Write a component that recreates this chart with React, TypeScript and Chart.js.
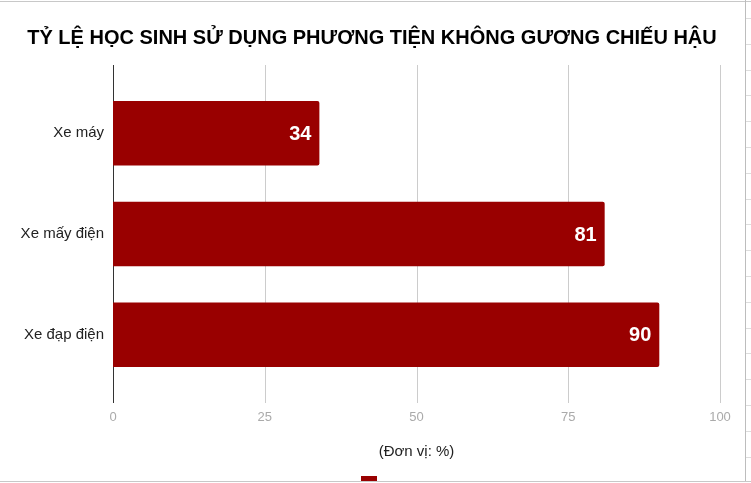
import { useEffect, useRef } from "react";
import { Chart, registerables, type Plugin } from "chart.js";

Chart.register(...registerables);

const TITLE = "TỶ LỆ HỌC SINH SỬ DỤNG PHƯƠNG TIỆN KHÔNG GƯƠNG CHIẾU HẬU";
const AXIS_TITLE = "(Đơn vị: %)";
const categories = ["Xe máy", "Xe mấy điện", "Xe đạp điện"];
const values = [34, 81, 90];
const xTicks = [0, 25, 50, 75, 100];

const BAR = "#990000";
const FONT = "'Liberation Sans', Arial, sans-serif";

// vertical gridlines drawn a bit past the bars, like the sheets chart does
const gridPlugin: Plugin<"bar"> = {
  id: "extGrid",
  beforeDatasetsDraw(chart) {
    const { ctx, chartArea, scales } = chart;
    const ext = 18;
    ctx.save();
    for (const v of xTicks) {
      const x = Math.round(scales.x.getPixelForValue(v)) + 0.5;
      ctx.strokeStyle = v === 0 ? "#333333" : "#cccccc";
      ctx.lineWidth = 1;
      ctx.beginPath();
      ctx.moveTo(x, chartArea.top - ext);
      ctx.lineTo(x, chartArea.bottom + ext);
      ctx.stroke();
    }
    ctx.restore();
  },
};

const labelPlugin: Plugin<"bar"> = {
  id: "barLabels",
  afterDatasetsDraw(chart) {
    const { ctx } = chart;
    const meta = chart.getDatasetMeta(0);
    ctx.save();
    ctx.fillStyle = "#ffffff";
    ctx.font = `bold 20px ${FONT}`;
    ctx.textAlign = "right";
    ctx.textBaseline = "middle";
    meta.data.forEach((el, i) => {
      const { x, y } = el.getProps(["x", "y"], true) as { x: number; y: number };
      ctx.fillText(String(values[i]), x - 8, y + 1);
    });
    ctx.restore();
  },
};

function BarChart() {
  const ref = useRef<HTMLCanvasElement>(null);

  useEffect(() => {
    if (!ref.current) return;
    const chart = new Chart(ref.current, {
      type: "bar",
      data: {
        labels: categories,
        datasets: [
          {
            label: "",
            data: values,
            backgroundColor: BAR,
            borderRadius: 2,
            borderSkipped: "start",
            categoryPercentage: 0.64,
            barPercentage: 1,
          },
        ],
      },
      options: {
        indexAxis: "y",
        responsive: true,
        maintainAspectRatio: false,
        animation: false,
        layout: { padding: { left: 0, right: 1, top: 0, bottom: 0 } },
        plugins: {
          title: {
            display: true,
            text: TITLE,
            color: "#000000",
            font: { family: FONT, size: 20, weight: "bold" },
            padding: { top: 26, bottom: 33 },
          },
          legend: {
            display: true,
            position: "bottom",
            labels: { boxWidth: 16, boxHeight: 16, padding: 10, font: { size: 12 } },
          },
          tooltip: { enabled: false },
        },
        scales: {
          x: {
            min: 0,
            max: 100,
            afterBuildTicks: (s) => {
              s.ticks = xTicks.map((v) => ({ value: v }));
            },
            afterFit: (s) => {
              s.height = 81;
            },
            // tick marks hidden; their length only pushes the labels down
            grid: { display: false, drawTicks: true, tickLength: 25 },
            border: { display: false },
            ticks: {
              color: "#aaaaaa",
              padding: 0,
              font: { family: FONT, size: 13 },
            },
            title: {
              display: true,
              text: AXIS_TITLE,
              color: "#222222",
              font: { family: FONT, size: 15 },
              padding: { top: 0, bottom: 5 },
            },
          },
          y: {
            afterFit: (s) => {
              s.width = 113;
            },
            grid: { display: false, drawTicks: false },
            border: { display: false },
            ticks: {
              color: "#222222",
              padding: 9,
              font: { family: FONT, size: 15 },
            },
          },
          // empty right gutter so title and legend centre on the whole frame
          gutter: {
            type: "linear",
            position: "right",
            afterFit: (s) => {
              s.width = 24;
            },
            grid: { display: false, drawTicks: false },
            border: { display: false },
            ticks: { display: false },
          },
        },
      },
      plugins: [gridPlugin, labelPlugin],
    });
    return () => chart.destroy();
  }, []);

  return (
    <div style={{ position: "absolute", left: 0, top: 0, width: 745, height: 502 }}>
      <canvas ref={ref} />
    </div>
  );
}

export default function App() {
  return (
    <div
      style={{
        position: "fixed",
        left: 0,
        top: 0,
        width: 751,
        height: 483,
        overflow: "hidden",
        background: "#ffffff",
      }}
    >
      <BarChart />
      {/* sheet frame around the embedded chart */}
      <div style={{ position: "absolute", left: 0, top: 1, width: 751, height: 1, background: "#c8c8c8" }} />
      <div style={{ position: "absolute", left: 745, top: 0, width: 1, height: 483, background: "#bdbdbd" }} />
      <div
        style={{
          position: "absolute",
          left: 746,
          top: 0,
          width: 5,
          height: 483,
          background:
            "repeating-linear-gradient(to bottom, transparent 0px, transparent 18px, #dddddd 18px, #dddddd 19px, transparent 19px, transparent 25.8px)",
        }}
      />
      <div style={{ position: "absolute", left: 0, top: 481, width: 751, height: 1, background: "#c8c8c8" }} />
      <div style={{ position: "absolute", left: 0, top: 482, width: 751, height: 1, background: "#ffffff" }} />
    </div>
  );
}
